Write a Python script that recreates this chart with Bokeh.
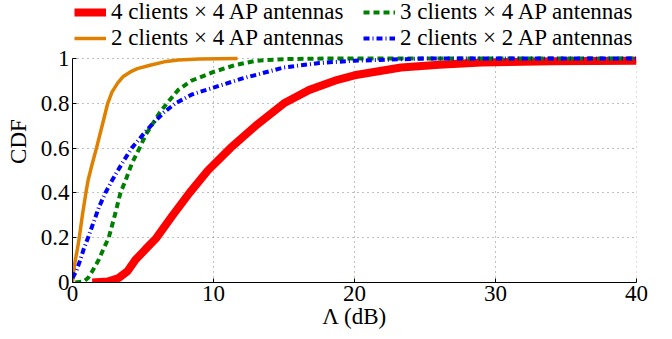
from bokeh.plotting import figure
from bokeh.models import Legend, LegendItem, FixedTicker, Range1d
from bokeh.embed import file_html
from bokeh.resources import INLINE

# ---- data ----
x_4c4a = [1.4, 2.5, 3.27, 3.9, 4.45, 5.2, 5.9, 7.1, 8.3, 9.6, 11.2, 13.0, 15.0, 16.8, 18.8, 20.0, 23.3, 26.0, 29.0, 34.0, 40.0]
y_4c4a = [0.0, 0.004, 0.02, 0.05, 0.1, 0.15, 0.195, 0.3, 0.4, 0.5, 0.6, 0.7, 0.8, 0.86, 0.905, 0.925, 0.96, 0.972, 0.982, 0.988, 0.99]

x_2c4a = [0.0, 0.1, 0.2, 0.35, 0.48, 0.7, 0.95, 1.1, 1.4, 1.7, 2.1, 2.5, 2.8, 3.2, 3.6, 4.1, 4.6, 5.5, 6.5, 7.5, 9.0, 11.7]
y_2c4a = [0.0, 0.06, 0.1, 0.15, 0.2, 0.3, 0.4, 0.455, 0.53, 0.6, 0.7, 0.8, 0.85, 0.89, 0.92, 0.94, 0.955, 0.97, 0.985, 0.993, 0.998, 1.0]

x_3c4a = [0.2, 0.8, 1.1, 1.4, 1.85, 2.2, 2.57, 3.0, 3.4, 3.76, 4.2, 4.75, 5.2, 5.7, 6.2, 6.7, 7.5, 8.4, 10.0, 11.5, 13.0, 15.0, 18.0, 40.0]
y_3c4a = [0.0, 0.005, 0.02, 0.05, 0.1, 0.15, 0.2, 0.3, 0.4, 0.455, 0.53, 0.6, 0.66, 0.71, 0.76, 0.8, 0.86, 0.9, 0.94, 0.97, 0.99, 0.997, 1.0, 1.0]

x_2c2a = [0.0, 0.26, 0.55, 0.8, 1.1, 1.5, 1.9, 2.33, 2.8, 3.5, 4.2, 5.0, 5.7, 6.5, 7.3, 8.5, 10.0, 12.0, 15.0, 17.5, 20.0, 25.0, 40.0]
y_2c2a = [0.02, 0.05, 0.1, 0.15, 0.2, 0.27, 0.34, 0.4, 0.455, 0.53, 0.6, 0.66, 0.71, 0.76, 0.8, 0.84, 0.87, 0.91, 0.96, 0.98, 0.99, 1.0, 1.0]

labels = ["4 clients \u00d7 4 AP antennas", "2 clients \u00d7 4 AP antennas",
          "3 clients \u00d7 4 AP antennas", "2 clients \u00d7 2 AP antennas"]

x_ticks = [0, 10, 20, 30, 40]
y_ticks = [0, 0.2, 0.4, 0.6, 0.8, 1.0]
y_tick_labels = ["0", "0.2", "0.4", "0.6", "0.8", "1"]

FONT = "Liberation Serif"

# layout (pixels)
W, H = 664, 335
BORDER_LEFT, BORDER_RIGHT, BORDER_BOTTOM = 72, 28, 53
TOP_GAP = 58                       # space inside the frame reserved for the legend
frame_h = H - BORDER_BOTTOM
y_end = frame_h / (frame_h - TOP_GAP)

p = figure(width=W, height=H, output_backend="svg", toolbar_location=None,
           x_range=Range1d(0, 40), y_range=Range1d(0, y_end),
           min_border_left=BORDER_LEFT, min_border_right=BORDER_RIGHT, min_border_top=0,
           min_border_bottom=BORDER_BOTTOM)
p.outline_line_color = None

# grid
p.xgrid.visible = False
p.ygrid.ticker = FixedTicker(ticks=y_ticks)
p.ygrid.grid_line_color = "#808080"
p.ygrid.grid_line_dash = "1 4"
p.segment(x0=x_ticks[1:], y0=[y_ticks[0]] * 4, x1=x_ticks[1:], y1=[y_ticks[-1]] * 4,
          line_color="#808080", line_dash="1 4", line_width=1)

r1 = p.line(x_4c4a, y_4c4a, line_color="#FF0000", line_width=8)
r2 = p.line(x_2c4a, y_2c4a, line_color="#E08000", line_width=3.5)
r3 = p.line(x_3c4a, y_3c4a, line_color="#008000", line_width=4, line_dash="6 4")
r4 = p.line(x_2c2a, y_2c2a, line_color="#0000FF", line_width=4, line_dash="6 3 1 3")

p.xaxis.ticker = FixedTicker(ticks=x_ticks)
p.yaxis.ticker = FixedTicker(ticks=y_ticks)
p.yaxis.major_label_overrides = {t: l for t, l in zip(y_ticks, y_tick_labels)}
p.yaxis.bounds = (0, 1)

for ax in (p.xaxis[0], p.yaxis[0]):
    ax.major_label_text_font = FONT
    ax.major_label_text_font_size = "23px"
    ax.major_label_text_color = "black"
    ax.axis_label_text_font = FONT
    ax.axis_label_text_font_size = "23px"
    ax.axis_label_text_font_style = "normal"
    ax.axis_label_text_color = "black"
    ax.axis_line_color = "black"
    ax.major_tick_line_color = "black"
    ax.major_tick_in = 4
    ax.major_tick_out = 0
    ax.minor_tick_line_color = None
p.xaxis.major_label_standoff = 3
p.yaxis.major_label_standoff = 3
p.xaxis.axis_label = "\u039b (dB)"
p.yaxis.axis_label = "CDF"
p.xaxis.axis_label_standoff = 0
p.yaxis.axis_label_standoff = 7

common = dict(label_text_font=FONT, label_text_font_size="23px", label_text_color="black",
              glyph_width=32, glyph_height=22, label_height=22, label_standoff=5,
              spacing=0, padding=0, margin=0,
              border_line_color=None, background_fill_alpha=0)
leg_y = frame_h - 51
col1 = Legend(items=[LegendItem(label=labels[0], renderers=[r1]),
                     LegendItem(label=labels[1], renderers=[r2])],
              location=(2, leg_y), **common)
col2 = Legend(items=[LegendItem(label=labels[2], renderers=[r3]),
                     LegendItem(label=labels[3], renderers=[r4])],
              location=(291, leg_y), **common)
p.add_layout(col1)
p.add_layout(col2)

open("out.html", "w").write(file_html(p, INLINE))
